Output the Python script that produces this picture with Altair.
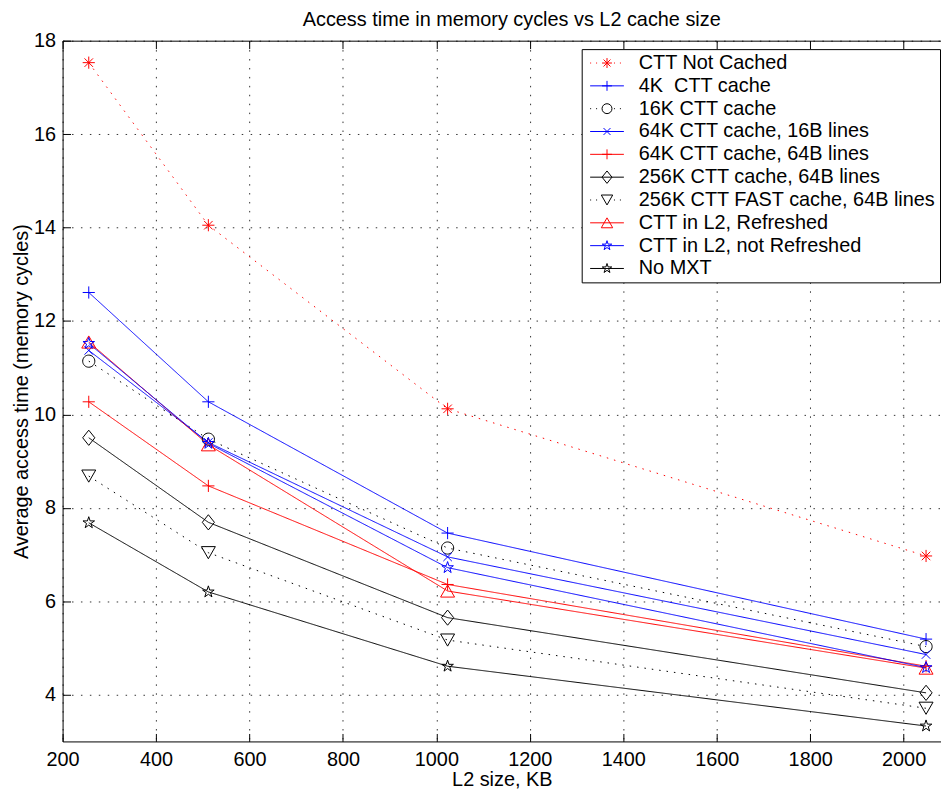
import altair as alt
import pandas as pd

# ---------------- data ----------------
x_kb = [256, 512, 1024, 2048]
series = [
    "CTT Not Cached",
    "4K\u00a0 CTT cache",
    "16K CTT cache",
    "64K CTT cache, 16B lines",
    "64K CTT cache, 64B lines",
    "256K CTT cache, 64B lines",
    "256K CTT FAST cache, 64B lines",
    "CTT in L2, Refreshed",
    "CTT in L2, not Refreshed",
    "No MXT",
]
not_cached = [17.53, 14.05, 10.12, 6.97]
cache_4k = [12.61, 10.27, 7.46, 5.19]
cache_16k = [11.14, 9.47, 7.14, 5.03]
cache_64k_16b = [11.37, 9.40, 6.95, 4.86]
cache_64k_64b = [10.27, 8.47, 6.36, 4.61]
cache_256k = [9.50, 7.69, 5.65, 4.04]
cache_256k_fast = [8.68, 7.04, 5.17, 3.71]
l2_refreshed = [11.55, 9.35, 6.22, 4.57]
l2_not_refreshed = [11.52, 9.38, 6.72, 4.58]
no_mxt = [7.68, 6.20, 4.61, 3.33]
values = [not_cached, cache_4k, cache_16k, cache_64k_16b, cache_64k_64b,
          cache_256k, cache_256k_fast, l2_refreshed, l2_not_refreshed, no_mxt]

x_ticks = [200, 400, 600, 800, 1000, 1200, 1400, 1600, 1800, 2000]
y_ticks = [4, 6, 8, 10, 12, 14, 16, 18]

# ---------------- styles ----------------
RED, BLUE, BLACK = "#ff0000", "#0000ff", "#000000"
colors = [RED, BLUE, BLACK, BLUE, RED, BLACK, BLACK, RED, BLUE, BLACK]
dotted = [True, False, True, False, False, False, True, False, False, False]

ASTER = "M-1,0L1,0M0,-1L0,1M-0.7,-0.7L0.7,0.7M-0.7,0.7L0.7,-0.7"
PLUS = "M-1,0L1,0M0,-1L0,1"
CIRC = "M1,0A1,1,0,1,1,-1,0A1,1,0,1,1,1,0Z"
XMARK = "M-0.7,-0.7L0.7,0.7M-0.7,0.7L0.7,-0.7"
DIAM = "M0,-1.25L1,0L0,1.25L-1,0Z"
TRIDOWN = "M-1.15,-1L1.15,-1L0,1Z"
TRIUP = "M-1.15,1L1.15,1L0,-1Z"
STAR = ("M0,-1L0.2245,-0.309L0.951,-0.309L0.363,0.118L0.588,0.809L0,0.382"
        "L-0.588,0.809L-0.363,0.118L-0.951,-0.309L-0.2245,-0.309Z")
markers = [ASTER, PLUS, CIRC, XMARK, PLUS, DIAM, TRIDOWN, TRIUP, STAR, STAR]


def legend_path(marker, is_dotted):
    lead = "M-4.8,0"
    if is_dotted:
        segs = []
        p = -3.4
        while p < 3.4:
            if abs(p) > 1.15 and abs(p + 0.2) > 1.15:
                segs.append(f"M{p:.2f},0L{p + 0.2:.2f},0")
            p += 1.2
        line = "".join(segs)
    else:
        line = "M-3.4,0L3.4,0"
    return lead + line + marker


legend_shapes = [legend_path(m, d) for m, d in zip(markers, dotted)]
dashes = [[1.5, 6] if d else [1, 0] for d in dotted]

rows = []
for name, vals in zip(series, values):
    for xv, yv in zip(x_kb, vals):
        rows.append({"series": name, "name": name, "x": xv, "y": yv})
df = pd.DataFrame(rows)

FONT = "Liberation Sans"
W, H = 885, 706

xs = alt.Scale(domain=[200, 2080], nice=False, zero=False)
ys = alt.Scale(domain=[3, 18], nice=False, zero=False)

base = alt.Chart(df)

lines = base.mark_line(strokeWidth=1, clip=True).encode(
    x=alt.X("x:Q", scale=xs, axis=alt.Axis(
        orient="bottom", values=x_ticks, format="d", grid=True, ticks=False,
        domain=True, labelPadding=8, labelFlush=False,
        title="L2 size, KB", titlePadding=0)),
    y=alt.Y("y:Q", scale=ys, axis=alt.Axis(
        orient="left", values=y_ticks, grid=True, ticks=False, domain=True,
        labelPadding=7, labelFlush=False,
        title="Average access time (memory cycles)", titlePadding=2)),
    color=alt.Color("series:N", scale=alt.Scale(domain=series, range=colors), legend=None),
    strokeDash=alt.StrokeDash("series:N", scale=alt.Scale(domain=series, range=dashes), legend=None),
    detail="series:N",
)

points = base.mark_point(filled=False, strokeWidth=1, size=150, opacity=1).encode(
    x=alt.X("x:Q", scale=xs, axis=alt.Axis(
        orient="top", offset=-H, values=x_ticks, labels=False, grid=False,
        domain=False, ticks=True, tickSize=8, title=None)),
    y=alt.Y("y:Q", scale=ys, axis=alt.Axis(
        orient="right", offset=-W, values=y_ticks, labels=False, grid=False,
        domain=False, ticks=True, tickSize=8, title=None)),
    color=alt.Color("series:N", scale=alt.Scale(domain=series, range=colors), legend=None),
    shape=alt.Shape("series:N", scale=alt.Scale(domain=series, range=markers), legend=None),
)

leg = alt.Legend(
    orient="none", legendX=523, legendY=8.5, title=None,
    labelFont=FONT, labelFontSize=20, labelColor="black", labelLimit=0,
    labelExpr="datum.label + '\u00a0'",
    symbolSize=100, symbolStrokeWidth=1, symbolOffset=11.5, labelOffset=22,
    strokeColor="black", fillColor="white", padding=4, rowPadding=3,
    cornerRadius=0,
)

legend_layer = base.transform_filter("datum.x < 0").mark_point(
    filled=False, strokeWidth=1, size=100, opacity=1).encode(
    x=alt.X("x:Q", scale=xs, axis=alt.Axis(
        orient="bottom", offset=-H, values=x_ticks, labels=False, grid=False,
        domain=True, ticks=True, tickSize=8, title=None)),
    y=alt.Y("y:Q", scale=ys, axis=None),
    color=alt.Color("name:N", scale=alt.Scale(domain=series, range=colors), legend=leg),
    shape=alt.Shape("name:N", scale=alt.Scale(domain=series, range=legend_shapes), legend=leg),
)

chart = alt.layer(lines, points, legend_layer).resolve_scale(
    color="independent", shape="independent"
).resolve_axis(x="independent", y="independent").properties(
    width=W, height=H,
    title=alt.TitleParams(
        "Access time in memory cycles vs L2 cache size",
        font=FONT, fontSize=20, fontWeight="normal", color="black",
        anchor="middle", baseline="alphabetic", offset=-15, dx=10),
    autosize=alt.AutoSizeParams(type="none"),
    padding={"left": 55, "top": 30, "right": 0, "bottom": 45},
).configure_view(stroke=None).configure_axis(
    labelFont=FONT, labelFontSize=20, labelColor="black",
    titleFont=FONT, titleFontSize=20, titleFontWeight="normal", titleColor="black",
    domainColor="black", domainWidth=1, tickColor="black", tickWidth=1,
    gridColor="black", gridDash=[1.5, 7.5], gridWidth=1, gridOpacity=0.8,
)

chart.save("out.html", embed_options={"renderer": "svg", "actions": False})
